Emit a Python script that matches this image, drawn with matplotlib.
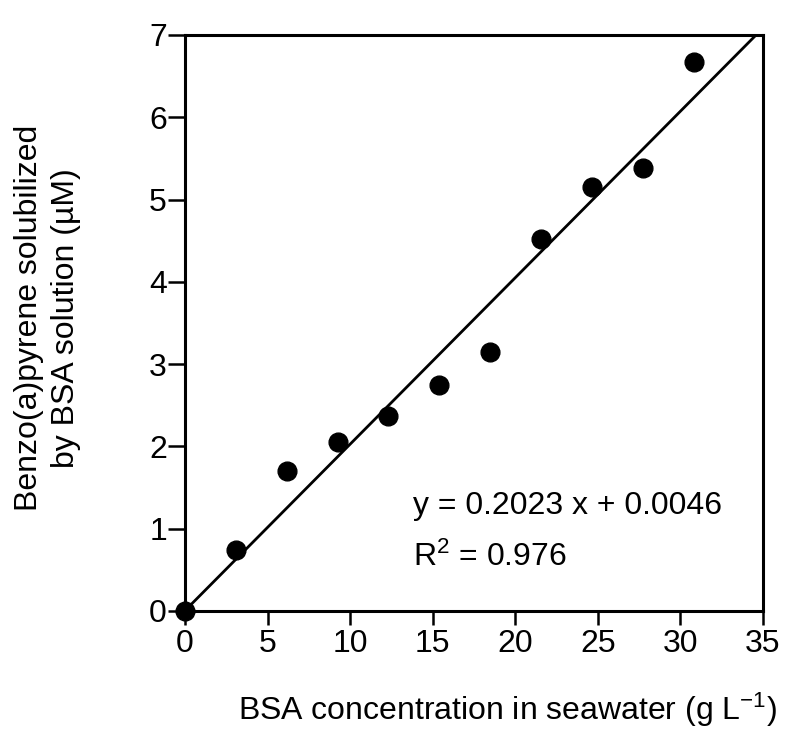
import numpy as np
import matplotlib
matplotlib.use("Agg")
import matplotlib.pyplot as plt

# BSA concentration (g/L) vs solubilized benzo(a)pyrene (uM)
bsa_conc = [0.0, 3.08, 6.16, 9.24, 12.32, 15.4, 18.48, 21.56, 24.64, 27.72, 30.8]
bap_solub = [0.0, 0.74, 1.70, 2.05, 2.37, 2.75, 3.15, 4.52, 5.15, 5.38, 6.67]

slope = 0.2023
intercept = 0.0046
r_squared = 0.976

x_ticks = [0, 5, 10, 15, 20, 25, 30, 35]
y_ticks = [0, 1, 2, 3, 4, 5, 6, 7]

plt.rcParams.update({
    "font.family": ["Liberation Sans", "DejaVu Sans"],
    "mathtext.default": "regular",
    "font.size": 23,
})

fig = plt.figure(figsize=(7.85, 7.54), dpi=100)
ax = fig.add_axes([0.2357, 0.1897, 0.972 - 0.2357, 0.9536 - 0.1897])

fit_x = np.array([0, 35])
ax.plot(fit_x, slope * fit_x + intercept, color="black", linewidth=2)
ax.plot(bsa_conc, bap_solub, "o", color="black", markersize=13.5, clip_on=False, zorder=5)

ax.text(13.8, 1.18, f"y = {slope:.4f} x + {intercept:.4f}", fontsize=23, va="baseline")
ax.text(13.8, 0.55, f"R$^2$ = {r_squared:.3f}", fontsize=23, va="baseline")

ax.set_xlim(0, 35)
ax.set_ylim(0, 7)
ax.set_xticks(x_ticks)
ax.set_yticks(y_ticks)
ax.tick_params(axis="x", direction="out", length=10, width=1.8, labelsize=23, pad=3)
ax.tick_params(axis="y", direction="out", length=12, width=1.8, labelsize=23, pad=1)
for s in ax.spines.values():
    s.set_linewidth(2.2)

fig.text(0.646, 0.045, "BSA concentration in seawater (g L$^{-1}$)", fontsize=23,
         ha="center", va="baseline")
fig.text(0.0605, 0.578, "Benzo(a)pyrene solubilized\nby BSA solution (\u00b5M)", fontsize=23,
         rotation=90, ha="center", va="center", linespacing=1.3)

fig.savefig("out.png", dpi=100)
